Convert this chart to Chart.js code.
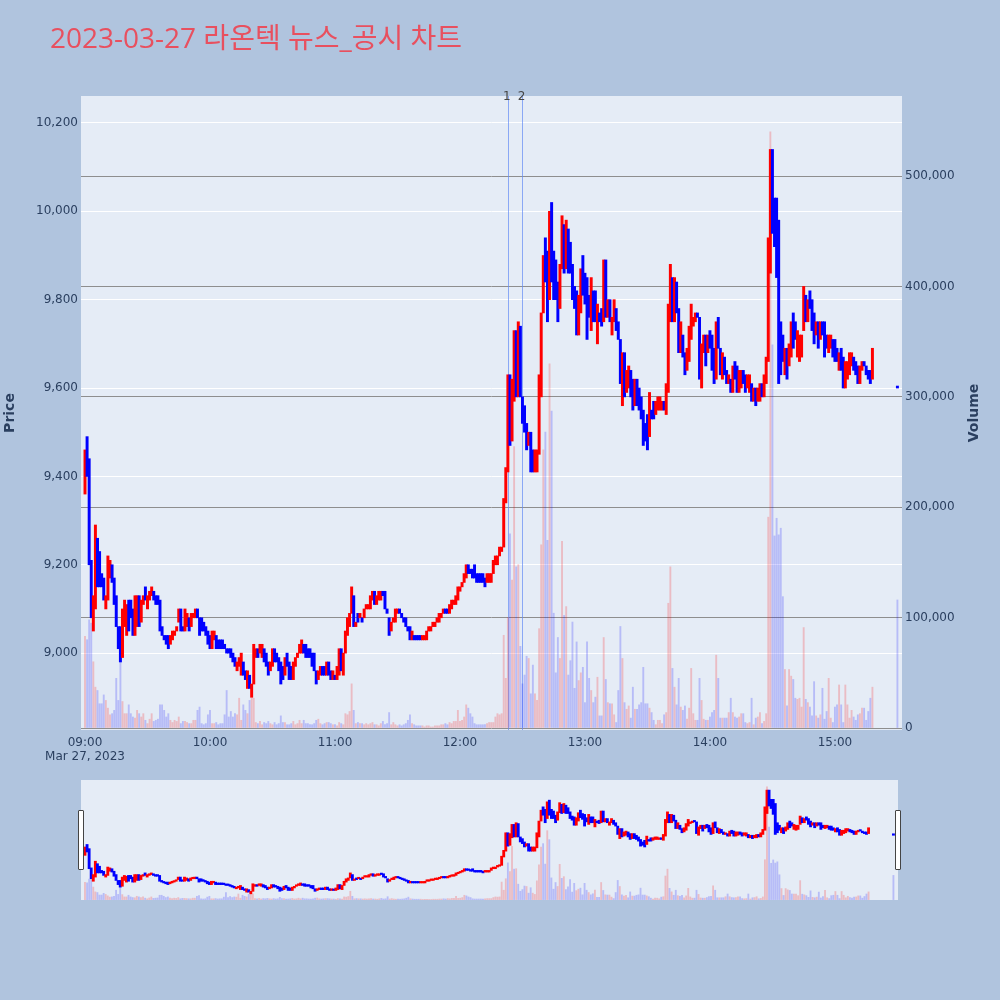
<!DOCTYPE html>
<html><head><meta charset="utf-8">
<script src="https://cdn.jsdelivr.net/npm/chart.js@4.4.1/dist/chart.umd.min.js"></script>
<style>
html,body{margin:0;padding:0;background:#b0c4de;}
#wrap{position:relative;width:1000px;height:1000px;overflow:hidden;background:#b0c4de;}
#main{position:absolute;left:0;top:0;width:1000px;height:770px;}
#slider{position:absolute;left:81px;top:780px;width:817px;height:120px;}
.grab{position:absolute;top:810px;width:4px;height:58px;background:#fff;border:1px solid #444;border-radius:1px;}
</style></head><body>
<div id="wrap">
<canvas id="main" width="1000" height="770"></canvas>
<canvas id="slider" width="817" height="120"></canvas>
<div class="grab" style="left:78px"></div>
<div class="grab" style="left:895px"></div>
</div>
<script>
const chartTitle = '2023-03-27 라온텍 뉴스_공시 차트';
const dateLabel = 'Mar 27, 2023';
const sessionStart = '09:00';
const hourTicks = ['09:00','10:00','11:00','12:00','13:00','14:00','15:00'];
const priceTicks = [9000, 9200, 9400, 9600, 9800, 10000, 10200];
const volumeTicks = [0, 100000, 200000, 300000, 400000, 500000];
const newsTimes = ['12:23', '12:30'];
const newsLabels = ['1', '2'];
const auctionTime = '15:30';
const auctionPrice = 9600;
const auctionVolume = 116000;

// one-minute candles from 09:00
const opens = [
9360,9490,9440,9210,9050,9100,9260,9230,9180,9170,
9100,9120,9170,9200,9170,9130,9060,9060,8990,9060,
9040,9120,9120,9100,9040,9060,9130,9070,9110,9150,
9100,9120,9130,9140,9130,9130,9120,9060,9040,9040,
9040,9020,9030,9040,9050,9070,9100,9060,9050,9060,
9080,9060,9080,9080,9100,9080,9080,9070,9060,9050,
9040,9010,9030,9040,9030,9030,9030,9020,9010,9010,
9010,9000,8990,8960,8970,8950,8980,8960,8920,8950,
8900,8930,8990,9010,9000,8990,9010,9000,8980,8960,
8970,9010,9000,8990,8980,8970,8950,9000,8980,8970,
8940,8970,8990,9000,9000,9020,9020,9010,9010,9000,
9000,8960,8940,8950,8970,8970,8950,8980,8960,8940,
8950,8940,8950,9010,8950,9000,9040,9060,9090,9130,
9060,9090,9080,9080,9080,9100,9100,9100,9120,9140,
9110,9120,9120,9140,9140,9100,9080,9050,9070,9070,
9090,9100,9090,9080,9080,9060,9060,9030,9040,9040,
9040,9040,9030,9030,9030,9050,9050,9060,9060,9070,
9070,9080,9090,9100,9100,9090,9100,9110,9110,9120,
9140,9150,9160,9170,9200,9190,9190,9200,9180,9180,
9180,9180,9170,9160,9160,9160,9180,9200,9200,9220,
9230,9240,9340,9410,9630,9480,9570,9730,9580,9740,
9580,9560,9520,9470,9500,9460,9410,9410,9450,9580,
9770,9940,9910,9800,10020,9910,9890,9840,9780,9870,
9970,9870,9960,9930,9880,9830,9820,9720,9770,9900,
9860,9850,9810,9730,9820,9820,9700,9770,9780,9750,
9890,9760,9800,9720,9750,9780,9750,9710,9560,9680,
9590,9600,9640,9620,9560,9620,9600,9580,9550,9520,
9540,9490,9550,9570,9540,9550,9550,9550,9570,9540,
9590,9750,9850,9750,9840,9780,9680,9720,9680,9640,
9660,9710,9740,9750,9770,9760,9600,9680,9720,9680,
9730,9720,9690,9620,9760,9690,9620,9670,9640,9610,
9620,9590,9660,9650,9590,9600,9640,9630,9600,9590,
9610,9570,9600,9570,9570,9610,9580,9610,9660,9860,
10140,10030,10030,9980,9750,9720,9630,9690,9650,9670,
9770,9750,9670,9660,9670,9730,9810,9750,9820,9800,
9770,9720,9750,9710,9750,9750,9720,9680,9690,9710,
9710,9690,9640,9690,9670,9600,9620,9630,9650,9670,
9660,9650,9610,9640,9660,9650,9640,9640,9620
];
const closes = [
9460,9400,9200,9080,9130,9290,9150,9150,9150,9120,
9130,9220,9210,9160,9110,9060,9010,8980,9100,9120,
9110,9050,9080,9040,9130,9130,9060,9120,9130,9120,
9130,9140,9150,9120,9110,9110,9050,9040,9030,9020,
9010,9040,9050,9050,9060,9100,9050,9050,9100,9090,
9050,9090,9090,9100,9080,9040,9050,9050,9040,9020,
9010,9050,9050,9010,9010,9010,9010,9010,9000,9000,
8990,8980,8970,8980,8990,9000,8950,8940,8960,8920,
8930,9020,9010,8990,9020,9020,8980,8970,8950,8980,
9010,8980,8980,8960,8930,8940,8990,8970,8940,8940,
8980,8990,9000,9020,9030,9000,8990,8990,8990,8970,
8960,8930,8960,8970,8950,8950,8980,8950,8940,8960,
8940,8970,9010,8960,9000,9050,9080,9090,9150,9060,
9070,9070,9090,9070,9100,9110,9110,9130,9140,9110,
9130,9140,9140,9130,9100,9090,9040,9070,9080,9100,
9100,9090,9080,9070,9060,9050,9030,9050,9030,9030,
9030,9030,9040,9040,9050,9060,9060,9070,9070,9080,
9090,9090,9100,9090,9090,9110,9120,9120,9130,9150,
9150,9160,9180,9200,9180,9180,9170,9170,9160,9160,
9160,9160,9150,9180,9180,9180,9210,9220,9220,9240,
9240,9350,9420,9630,9470,9620,9730,9580,9750,9580,
9520,9500,9460,9500,9410,9410,9460,9460,9630,9770,
9900,9840,9750,10000,9840,9800,9800,9750,9880,9990,
9860,9980,9860,9860,9800,9780,9720,9810,9870,9810,
9790,9710,9760,9850,9750,9750,9790,9750,9740,9890,
9760,9800,9750,9760,9800,9730,9710,9610,9680,9580,
9640,9650,9580,9550,9620,9560,9550,9530,9470,9480,
9460,9590,9530,9530,9570,9580,9580,9570,9550,9610,
9790,9880,9750,9850,9770,9680,9750,9670,9630,9690,
9740,9790,9760,9770,9760,9620,9700,9720,9650,9720,
9690,9640,9610,9750,9690,9630,9680,9630,9610,9630,
9590,9650,9620,9590,9640,9640,9610,9590,9630,9630,
9570,9600,9560,9600,9610,9580,9630,9670,9940,10140,
9950,9920,9850,9610,9630,9660,9690,9620,9700,9750,
9690,9710,9730,9720,9720,9830,9750,9800,9780,9730,
9700,9750,9690,9750,9720,9670,9690,9720,9720,9670,
9660,9660,9680,9640,9600,9660,9660,9680,9680,9640,
9630,9610,9650,9660,9650,9630,9620,9610,9690
];
const volumes = [
83000,80000,98000,95000,60000,37000,34000,22000,22000,30000,
25000,18000,12000,13000,16000,45000,25000,60000,24000,13000,
13000,21000,13000,10000,9000,16000,13000,10000,13000,7000,
4000,8000,13000,6000,7000,8000,21000,21000,16000,10000,
13000,7000,5000,7000,6000,10000,4000,6000,6000,5000,
4000,4000,7000,7000,16000,19000,4000,3000,4000,12000,
16000,4000,4000,5000,3000,4000,4000,12000,34000,10000,
15000,10000,13000,12000,27000,7000,21000,16000,13000,25000,
27000,27000,5000,4000,6000,3000,5000,4000,6000,4000,
3000,5000,3000,4000,11000,5000,5000,3000,3000,4000,
6000,3000,4000,7000,4000,7000,4000,4000,3000,3000,
4000,7000,8000,4000,3000,4000,5000,5000,4000,3000,
3000,2000,5000,4000,3000,13000,12000,15000,40000,16000,
4000,5000,4000,4000,3000,4000,3000,4000,5000,3000,
3000,2000,4000,6000,3000,4000,14000,3000,5000,3000,
2000,3000,2000,3000,4000,7000,12000,4000,3000,2000,
2000,2000,2000,1000,2000,2000,1000,1000,2000,2000,
2000,3000,3000,4000,3000,5000,4000,6000,6000,16000,
6000,7000,10000,21000,18000,13000,10000,4000,3000,3000,
3000,3000,3000,4000,5000,5000,5000,10000,13000,12000,
13000,84000,45000,100000,176000,134000,255000,146000,148000,74000,
40000,48000,65000,63000,31000,57000,31000,25000,90000,166000,
252000,268000,170000,330000,287000,104000,50000,82000,63000,169000,
102000,110000,48000,61000,96000,36000,78000,43000,50000,55000,
23000,78000,45000,34000,23000,28000,46000,11000,11000,82000,
44000,23000,22000,22000,12000,5000,34000,92000,63000,23000,
17000,20000,9000,37000,17000,17000,21000,23000,55000,22000,
22000,18000,14000,7000,3000,7000,7000,4000,12000,14000,
113000,146000,54000,37000,21000,45000,19000,16000,20000,8000,
18000,54000,13000,7000,7000,45000,25000,8000,7000,7000,
10000,14000,16000,66000,45000,9000,9000,9000,9000,14000,
27000,14000,10000,9000,10000,13000,13000,5000,4000,5000,
27000,3000,9000,10000,14000,4000,6000,13000,191000,540000,
347000,174000,190000,175000,181000,119000,53000,20000,53000,47000,
44000,27000,26000,27000,19000,91000,26000,23000,19000,11000,
42000,11000,9000,12000,36000,8000,15000,45000,9000,5000,
19000,21000,39000,21000,5000,39000,21000,9000,16000,10000,
7000,12000,13000,18000,18000,7000,15000,27000,37000
];

const FONT = '"DejaVu Sans", "Noto Sans CJK KR", sans-serif';
const TITLE_FONT = '"Open Sans", "Noto Sans CJK KR", sans-serif';
const TXT = '#2a3f5f';
const toMin = t => { const p = t.split(':').map(Number); return (p[0] - 9) * 60 + p[1]; };
const x0 = toMin(sessionStart);
const fmt = v => Number(v).toLocaleString('en-US');

function buildCandles() {
  const d = opens.map((o, i) => ({ x: x0 + i, y: [o, closes[i]] }));
  d.push({ x: toMin(auctionTime), y: [auctionPrice, auctionPrice] });
  return d;
}
function buildVolumes() {
  const d = volumes.map((v, i) => ({ x: x0 + i, y: v }));
  d.push({ x: toMin(auctionTime), y: auctionVolume });
  return d;
}
const upFlags = opens.map((o, i) => closes[i] > o).concat([false]);
const candleColors = upFlags.map(u => u ? '#ff0000' : '#0000ff');
const volColors = upFlags.map(u => u ? 'rgba(255,0,0,0.2)' : 'rgba(0,0,255,0.2)');

const X_RANGE = { min: -1.92, max: 392.2 };
const P_RANGE = { min: 8826, max: 10261 };
const V_RANGE = { min: -1800, max: 572500 };

const decor = {
  id: 'decor',
  beforeDraw(chart) {
    const { ctx, chartArea: a } = chart;
    ctx.save();
    ctx.fillStyle = '#e5ecf6';
    ctx.fillRect(a.left, a.top, a.right - a.left, a.bottom - a.top);
    ctx.restore();
  },
  beforeDatasetsDraw(chart) {
    const { ctx, chartArea: a, scales } = chart;
    ctx.save();
    ctx.strokeStyle = 'rgba(100,140,245,0.7)';
    ctx.lineWidth = 1;
    newsTimes.forEach(t => {
      const px = Math.round(scales.x.getPixelForValue(toMin(t))) + 0.5;
      ctx.beginPath(); ctx.moveTo(px, a.top); ctx.lineTo(px, a.bottom); ctx.stroke();
    });
    ctx.restore();
  },
  afterDraw(chart) {
    const { ctx, chartArea: a, scales } = chart;
    ctx.save();
    ctx.fillStyle = '#e8505f';
    ctx.font = '28px ' + TITLE_FONT;
    ctx.textBaseline = 'middle';
    ctx.textAlign = 'left';
    ctx.fillText(chartTitle, 50, 40);

    ctx.fillStyle = '#444';
    ctx.font = '12px ' + FONT;
    ctx.textAlign = 'center';
    newsTimes.forEach((t, i) => {
      const px = scales.x.getPixelForValue(toMin(t));
      ctx.fillText(newsLabels[i], px - 1, a.top + 1);
    });

    ctx.fillStyle = TXT;
    ctx.font = '12px ' + FONT;
    ctx.textAlign = 'center';
    ctx.fillText(dateLabel, scales.x.getPixelForValue(x0), 757);

    ctx.font = 'bold 14px ' + FONT;
    const midY = (a.top + a.bottom) / 2;
    ctx.translate(10, midY); ctx.rotate(-Math.PI / 2);
    ctx.fillText('Price', 0, 0);
    ctx.setTransform(1, 0, 0, 1, 0, 0);
    ctx.translate(974, midY); ctx.rotate(-Math.PI / 2);
    ctx.fillText('Volume', 0, 0);
    ctx.restore();
  }
};

new Chart(document.getElementById('main'), {
  type: 'bar',
  data: {
    datasets: [
      { label: 'Price', data: buildCandles(), yAxisID: 'y', backgroundColor: candleColors,
        barThickness: 2.3, minBarLength: 2, order: 0 },
      { label: 'Volume', data: buildVolumes(), yAxisID: 'y2', backgroundColor: volColors,
        barThickness: 1.25, order: 1 }
    ]
  },
  options: {
    responsive: false, animation: false, devicePixelRatio: 1,
    layout: { padding: { top: 96, left: 0, right: 0, bottom: 0 } },
    plugins: { legend: { display: false }, tooltip: { enabled: false } },
    datasets: { bar: { grouped: false } },
    scales: {
      x: {
        type: 'linear', min: X_RANGE.min, max: X_RANGE.max, offset: false,
        grid: { display: false, drawTicks: false }, border: { display: false },
        afterBuildTicks: s => { s.ticks = hourTicks.map(t => ({ value: toMin(t) })); },
        afterFit: s => { s.height = 40; },
        ticks: { autoSkip: false, maxRotation: 0, padding: 6, color: TXT, font: { family: FONT, size: 12 },
          callback: v => { const h = hourTicks.find(t => toMin(t) === v); return h || ''; } }
      },
      y: {
        position: 'left', min: P_RANGE.min, max: P_RANGE.max,
        grid: { color: '#ffffff', lineWidth: 1, drawTicks: false }, border: { display: false },
        afterBuildTicks: s => { s.ticks = priceTicks.map(v => ({ value: v })); },
        afterFit: s => { s.width = 81; },
        ticks: { padding: 3, color: TXT, font: { family: FONT, size: 12 }, callback: v => fmt(v) }
      },
      y2: {
        position: 'right', min: V_RANGE.min, max: V_RANGE.max,
        grid: { color: '#8e8e8e', lineWidth: 1, drawTicks: false }, border: { display: false },
        afterBuildTicks: s => { s.ticks = volumeTicks.map(v => ({ value: v })); },
        afterFit: s => { s.width = 98; },
        ticks: { padding: 3, color: TXT, font: { family: FONT, size: 12 }, callback: v => fmt(v) }
      }
    }
  },
  plugins: [decor]
});

const sliderBg = {
  id: 'sliderBg',
  beforeDraw(chart) {
    const { ctx, width, height } = chart;
    ctx.save(); ctx.fillStyle = '#e5ecf6'; ctx.fillRect(0, 0, width, height); ctx.restore();
  }
};

new Chart(document.getElementById('slider'), {
  type: 'bar',
  data: {
    datasets: [
      { data: buildCandles(), yAxisID: 'y', backgroundColor: candleColors, barThickness: 2.2, minBarLength: 1.5, order: 0 },
      { data: buildVolumes(), yAxisID: 'y2', backgroundColor: volColors, barThickness: 1.2, order: 1 }
    ]
  },
  options: {
    responsive: false, animation: false, devicePixelRatio: 1,
    layout: { padding: 0 },
    plugins: { legend: { display: false }, tooltip: { enabled: false } },
    datasets: { bar: { grouped: false } },
    scales: {
      x: { type: 'linear', display: false, min: X_RANGE.min, max: X_RANGE.max, offset: false },
      y: { display: false, min: P_RANGE.min, max: P_RANGE.max },
      y2: { display: false, position: 'right', min: V_RANGE.min, max: V_RANGE.max }
    }
  },
  plugins: [sliderBg]
});
</script>
</body></html>
